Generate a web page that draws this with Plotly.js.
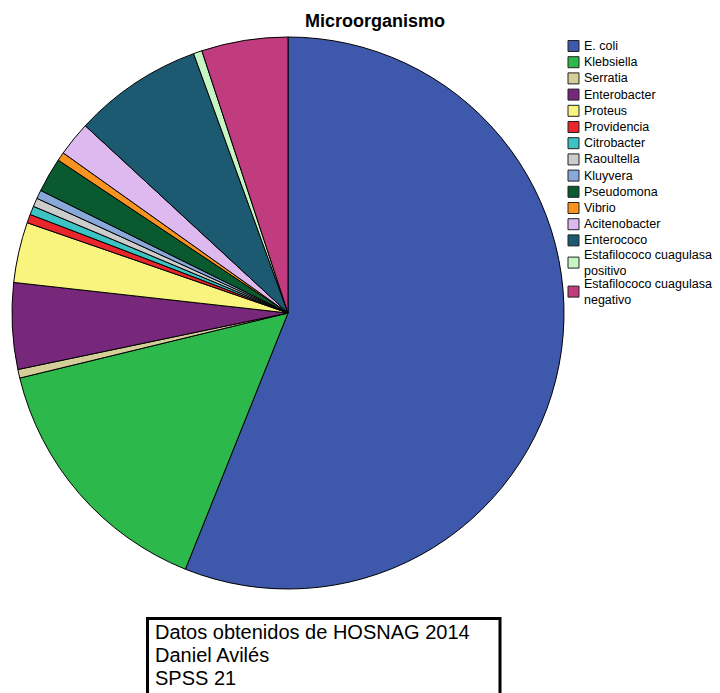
<!DOCTYPE html>
<html>
<head>
<meta charset="utf-8">
<script src="https://cdn.plot.ly/plotly-3.0.1.min.js"></script>
<style>html,body{margin:0;padding:0;background:#fff;}#chart{width:720px;height:693px;}</style>
</head>
<body>
<div id="chart"></div>
<script>
const categories = ["E. coli","Klebsiella","Serratia","Enterobacter","Proteus","Providencia","Citrobacter","Raoultella","Kluyvera","Pseudomona","Vibrio","Acitenobacter","Enterococo","Estafilococo cuagulasa<br>positivo","Estafilococo cuagulasa<br>negativo"];
const counts = [111,30,1,10,7,1,1,1,1,4,1,4,15,1,10];
const colors = ["#3E58AC","#2DB84B","#D4CE98","#78287B","#F8F47E","#E8262B","#3CC3C3","#CCCCCC","#87A8D9","#0A5A30","#F7931E","#DDB9F0","#1B5A70","#C6F6C4","#C13C7E"];
const noteLines = ["Datos obtenidos de HOSNAG 2014","Daniel Avilés","SPSS 21"];
const chartTitle = "Microorganismo";

const W = 720, H = 693;
const FONT = 'Liberation Sans, Arial, sans-serif';
const px = v => v / W;
const py = v => 1 - v / H;

const trace = {
  type: 'pie',
  labels: categories,
  values: counts,
  sort: false,
  direction: 'clockwise',
  rotation: 0,
  textinfo: 'none',
  hoverinfo: 'label+value+percent',
  showlegend: false,
  marker: {colors: colors, line: {color: '#000', width: 1}},
  domain: {x: [px(12), px(564)], y: [py(589), py(37)]}
};

// Legend built from the category list (swatch + label per category)
const shapes = [];
const annotations = [];
let lineY = 46;
categories.forEach((lab, i) => {
  const nLines = lab.split('<br>').length;
  const c = lineY + 6 * (nLines - 1);
  shapes.push({type: 'rect', xref: 'paper', yref: 'paper',
    x0: px(568), x1: px(579), y0: py(c + 5.5), y1: py(c - 5.5),
    fillcolor: colors[i], line: {color: '#222', width: 1}});
  annotations.push({xref: 'paper', yref: 'paper', x: px(582), y: py(c),
    xanchor: 'left', yanchor: 'middle', align: 'left', showarrow: false, text: lab,
    font: {size: 12.5, color: '#000', family: FONT}});
  lineY += 16.2 + 12.8 * (nLines - 1);
});

// Note box
shapes.push({type: 'rect', xref: 'paper', yref: 'paper', x0: px(147.5), x1: px(500), y0: -0.1, y1: py(618.5),
  line: {color: '#000', width: 3}, fillcolor: 'rgba(0,0,0,0)'});
const noteY = [632, 655, 678];
noteLines.forEach((t, k) => {
  annotations.push({xref: 'paper', yref: 'paper', x: px(153), y: py(noteY[k]), xanchor: 'left', yanchor: 'middle',
    align: 'left', showarrow: false, text: t, font: {size: 20, color: '#000', family: FONT}});
});

const layout = {
  width: W, height: H,
  margin: {l: 0, r: 0, t: 0, b: 0},
  paper_bgcolor: '#fff',
  font: {family: FONT, color: '#000'},
  title: {text: '<b>' + chartTitle + '</b>', x: px(305), xanchor: 'left', y: py(21), yanchor: 'middle',
    font: {size: 18, family: FONT, color: '#000'}},
  showlegend: false,
  shapes: shapes,
  annotations: annotations
};
Plotly.newPlot('chart', [trace], layout, {displayModeBar: false, staticPlot: true});
</script>
</body>
</html>
